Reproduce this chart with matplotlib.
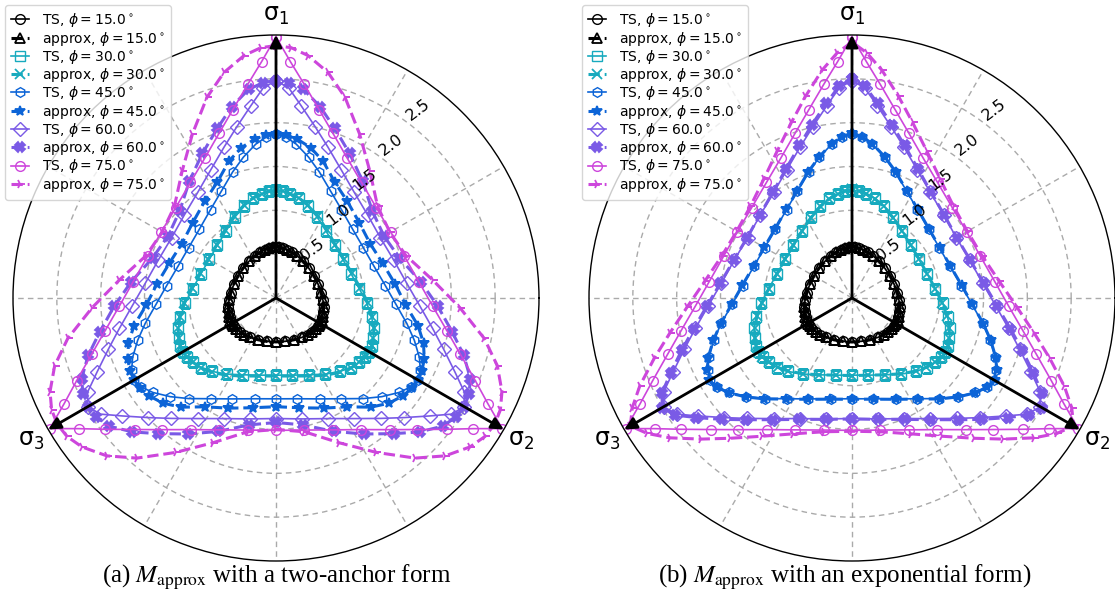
import numpy as np
import matplotlib
matplotlib.use('Agg')
import matplotlib.pyplot as plt

# angles (deg) measured from a sigma axis towards the middle of the next edge;
# each surface is 3-fold symmetric and mirror symmetric about the sigma axes
psi = np.array([0, 3.5, 7.5, 13, 19, 27, 36.5, 48, 60])

phis = [15.0, 30.0, 45.0, 60.0, 75.0]
colors = ['black', '#17aabe', '#0c64d7', '#7a5ae6', '#cd46dc']
ts_markers = ['o', 's', 'h', 'D', 'o']
approx_markers = ['^', 'x', '*', 'X', '4']

# TS radii (same in both panels)
ts_15 = [0.58, 0.578, 0.574, 0.565, 0.553, 0.537, 0.52, 0.506, 0.50]
ts_30 = [1.23, 1.22, 1.20, 1.165, 1.11, 1.035, 0.955, 0.90, 0.88]
ts_45 = [1.87, 1.84, 1.77, 1.65, 1.52, 1.37, 1.255, 1.175, 1.15]
ts_60 = [2.48, 2.40, 2.21, 2.00, 1.82, 1.64, 1.50, 1.41, 1.375]
ts_75 = [2.98, 2.70, 2.46, 2.20, 1.99, 1.79, 1.64, 1.54, 1.51]

# approx radii, (a) two-anchor form
a_15 = [0.585, 0.582, 0.576, 0.566, 0.553, 0.536, 0.519, 0.506, 0.501]
a_30 = [1.23, 1.22, 1.20, 1.17, 1.12, 1.05, 0.97, 0.91, 0.89]
a_45 = [1.87, 1.86, 1.83, 1.76, 1.65, 1.48, 1.37, 1.28, 1.24]
a_60 = [2.48, 2.46, 2.40, 2.24, 2.05, 1.85, 1.66, 1.48, 1.42]
a_75 = [2.88, 2.86, 2.79, 2.64, 2.42, 2.10, 1.80, 1.56, 1.50]

# approx radii, (b) exponential form
b_15 = [0.585, 0.581, 0.575, 0.565, 0.552, 0.536, 0.52, 0.507, 0.502]
b_30 = [1.24, 1.225, 1.20, 1.16, 1.105, 1.03, 0.955, 0.90, 0.885]
b_45 = [1.88, 1.845, 1.775, 1.655, 1.525, 1.375, 1.26, 1.18, 1.155]
b_60 = [2.50, 2.42, 2.24, 2.03, 1.84, 1.655, 1.51, 1.415, 1.38]
b_75 = [2.92, 2.80, 2.62, 2.36, 2.12, 1.88, 1.69, 1.56, 1.52]

ts_all = [ts_15, ts_30, ts_45, ts_60, ts_75]
a_all = [a_15, a_30, a_45, a_60, a_75]
b_all = [b_15, b_30, b_45, b_60, b_75]

r_ticks = [0.5, 1.0, 1.5, 2.0, 2.5]
sigma_axes = [(90, '1'), (330, '2'), (210, '3')]


def full_curve(r_half):
    # one 120 deg period (sigma axis -> next sigma axis), repeated 3 times
    r_half = np.asarray(r_half)
    seg_a = np.concatenate([psi, 120 - psi[::-1][1:]])
    seg_r = np.concatenate([r_half, r_half[::-1][1:]])
    a = np.concatenate([seg_a[:-1] + 120 * k for k in range(3)] + [[360]])
    r = np.concatenate([seg_r[:-1]] * 3 + [[seg_r[0]]])
    return np.radians(90 + a), r


def draw_panel(ax, approx_all, legend_x):
    for phi, col, mt, ma, r_ts, r_ap in zip(phis, colors, ts_markers, approx_markers, ts_all, approx_all):
        th, r = full_curve(r_ts)
        ax.plot(th, r, color=col, lw=1.2, marker=mt, ms=7, mfc='none', mew=1.0,
                label=r'TS, $\phi=%.1f^\circ$' % phi)
        th, r = full_curve(r_ap)
        ax.plot(th, r, color=col, lw=2.2, ls='--', marker=ma, ms=7, mew=1.3,
                mfc='none' if ma == '^' else col,
                label=r'approx, $\phi=%.1f^\circ$' % phi)

    ax.set_ylim(0, 3)
    ax.set_yticks(r_ticks)
    ax.set_yticklabels([])
    ax.set_xticks(np.radians(np.arange(0, 360, 30)))
    ax.set_xticklabels([])
    ax.grid(True, color='#aaaaaa', ls=(0, (4, 3)), lw=1.0)
    ax.spines['polar'].set_linewidth(1.0)
    for v in r_ticks:
        ax.text(np.radians(53), v + 0.19, '%.1f' % v, rotation=37,
                ha='center', va='center', fontsize=11.5)

    for ang, sub in sigma_axes:
        ax.annotate('', xy=(np.radians(ang), 3.0), xytext=(0, 0),
                    arrowprops=dict(arrowstyle='-|>', color='black', lw=2,
                                    mutation_scale=18, shrinkA=0, shrinkB=0),
                    zorder=10)
        ax.text(np.radians(ang), 3.23, 'σ$_%s$' % sub, ha='center', va='center',
                fontsize=17, clip_on=False)

    ax.legend(loc='upper left', bbox_to_anchor=(legend_x, 1 - 5 / 609),
              bbox_transform=fig.transFigure, fontsize=10, labelspacing=0.02,
              handlelength=1.3, handletextpad=0.9, borderpad=0.45, borderaxespad=0)


fig = plt.figure(figsize=(11.15, 6.09), dpi=100)
ax1 = fig.add_axes([13 / 1115, 48 / 609, 526 / 1115, 526 / 609], projection='polar')
ax2 = fig.add_axes([589 / 1115, 48 / 609, 526 / 1115, 526 / 609], projection='polar')

draw_panel(ax1, a_all, 5 / 1115)
draw_panel(ax2, b_all, 582 / 1115)

fig.text(277 / 1115, 1 - 577 / 609, r'(a) $M_{\mathrm{approx}}$ with a two-anchor form',
         ha='center', va='center', fontsize=18, family='Liberation Serif',
         math_fontfamily='stix')
fig.text(845 / 1115, 1 - 577 / 609, r'(b) $M_{\mathrm{approx}}$ with an exponential form)',
         ha='center', va='center', fontsize=18, family='Liberation Serif',
         math_fontfamily='stix')

fig.savefig('out.png', dpi=100)
